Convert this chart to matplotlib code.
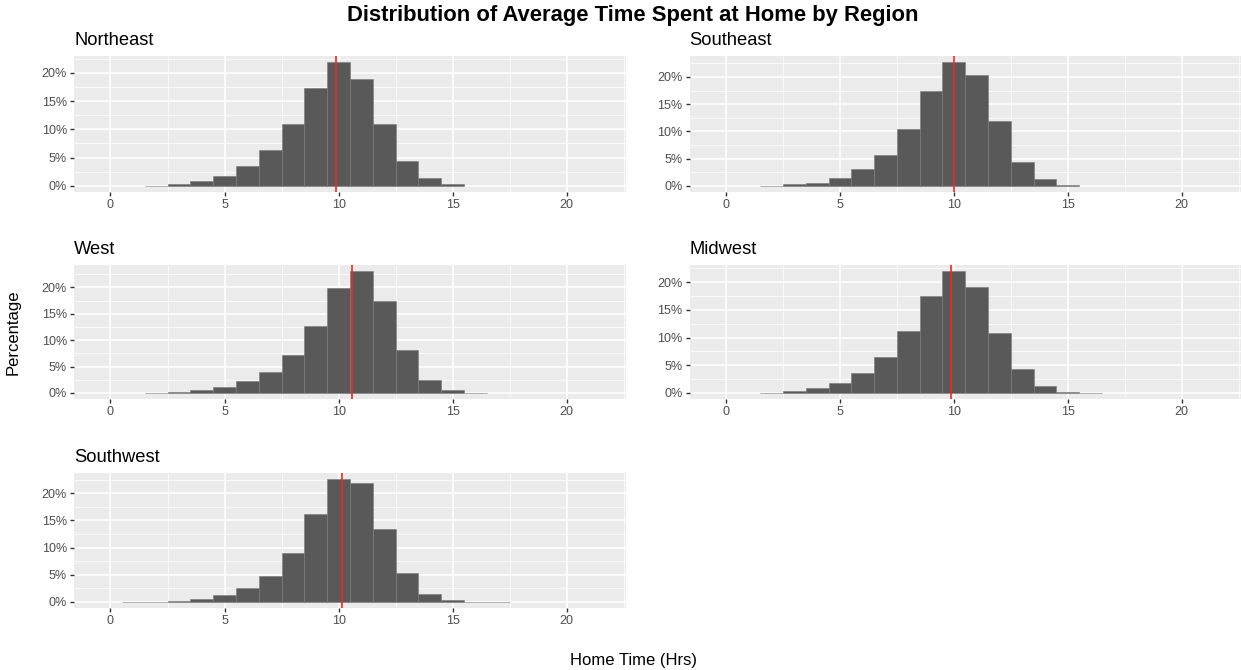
import matplotlib
matplotlib.use("Agg")
import matplotlib.pyplot as plt
import numpy as np
from matplotlib.ticker import FuncFormatter, MultipleLocator

plt.rcParams['font.family'] = ['Liberation Sans', 'DejaVu Sans']

# bin centres (1 hr wide bins) and percentage of observations per bin
regions = ["Northeast", "Southeast", "West", "Midwest", "Southwest"]

ne_bins = [2, 3, 4, 5, 6, 7, 8, 9, 10, 11, 12, 13, 14, 15]
ne_pct = [0.05, 0.3, 0.8, 1.7, 3.5, 6.4, 11.0, 17.4, 21.9, 18.9, 11.0, 4.4, 1.4, 0.3]
ne_mean = 9.88

se_bins = [2, 3, 4, 5, 6, 7, 8, 9, 10, 11, 12, 13, 14, 15]
se_pct = [0.05, 0.25, 0.6, 1.5, 3.0, 5.7, 10.4, 17.5, 22.7, 20.4, 11.9, 4.4, 1.2, 0.1]
se_mean = 10.02

w_bins = [2, 3, 4, 5, 6, 7, 8, 9, 10, 11, 12, 13, 14, 15, 16]
w_pct = [0.03, 0.1, 0.5, 1.1, 2.2, 4.0, 7.1, 12.6, 19.8, 23.1, 17.4, 8.1, 2.5, 0.5, 0.05]
w_mean = 10.57

mw_bins = [2, 3, 4, 5, 6, 7, 8, 9, 10, 11, 12, 13, 14, 15, 16]
mw_pct = [0.03, 0.3, 0.8, 1.8, 3.6, 6.5, 11.2, 17.5, 22.0, 19.2, 10.9, 4.3, 1.3, 0.25, 0.03]
mw_mean = 9.87

sw_bins = [1, 2, 3, 4, 5, 6, 7, 8, 9, 10, 11, 12, 13, 14, 15, 16, 17]
sw_pct = [0.02, 0.02, 0.15, 0.5, 1.2, 2.5, 4.7, 9.0, 16.1, 22.6, 21.8, 13.4, 5.3, 1.5, 0.4, 0.02, 0.02]
sw_mean = 10.16

series = [(ne_bins, ne_pct, ne_mean), (se_bins, se_pct, se_mean),
          (w_bins, w_pct, w_mean), (mw_bins, mw_pct, mw_mean),
          (sw_bins, sw_pct, sw_mean)]

W, H = 1241, 670
# panel boxes in pixels (left, top, right, bottom)
cols = [(74, 626), (689.5, 1241)]
rows = [(56, 192), (265, 399), (473, 608)]

fig = plt.figure(figsize=(W / 100, H / 100), dpi=100)

for i, (name, (bins, pct, mean)) in enumerate(zip(regions, series)):
    r, c = divmod(i, 2)
    x0, x1 = cols[c]
    y0, y1 = rows[r]
    ax = fig.add_axes([x0 / W, 1 - y1 / H, (x1 - x0) / W, (y1 - y0) / H])
    ax.set_facecolor('#EBEBEB')
    ax.bar(bins, pct, width=1.0, color='#595959', edgecolor='#7A7A7A',
           linewidth=0.4, zorder=3)
    ax.axvline(mean, color='#EE2A1E', lw=1.2, zorder=4)

    top = max(pct)
    ax.set_ylim(-0.05 * top, 1.05 * top)
    ax.set_xlim(-1.6, 22.6)
    ax.xaxis.set_major_locator(MultipleLocator(5))
    ax.xaxis.set_minor_locator(MultipleLocator(2.5))
    ax.yaxis.set_major_locator(MultipleLocator(5))
    ax.yaxis.set_minor_locator(MultipleLocator(2.5))
    ax.yaxis.set_major_formatter(FuncFormatter(lambda v, p: f"{v:.0f}%"))
    ax.grid(which='major', color='white', lw=1.1, zorder=1)
    ax.grid(which='minor', color='white', lw=0.5, zorder=1)
    ax.set_axisbelow(True)
    for s in ax.spines.values():
        s.set_visible(False)
    ax.tick_params(which='major', length=3, width=1, color='#333333',
                   labelcolor='#4D4D4D', labelsize=9, pad=2)
    ax.tick_params(which='minor', length=0)
    ax.set_title(name, loc='left', fontsize=13.2, color='black', pad=8)

fig.text(633 / W, 1 - 15 / H, "Distribution of Average Time Spent at Home by Region",
         ha='center', va='center', fontsize=15.8, fontweight='bold')
fig.text(633 / W, 1 - 660 / H, "Home Time (Hrs)", ha='center', va='center', fontsize=12)
fig.text(13 / W, 1 - 332 / H, "Percentage", ha='center', va='center',
         rotation=90, fontsize=12)

fig.savefig("out.png", dpi=100)
